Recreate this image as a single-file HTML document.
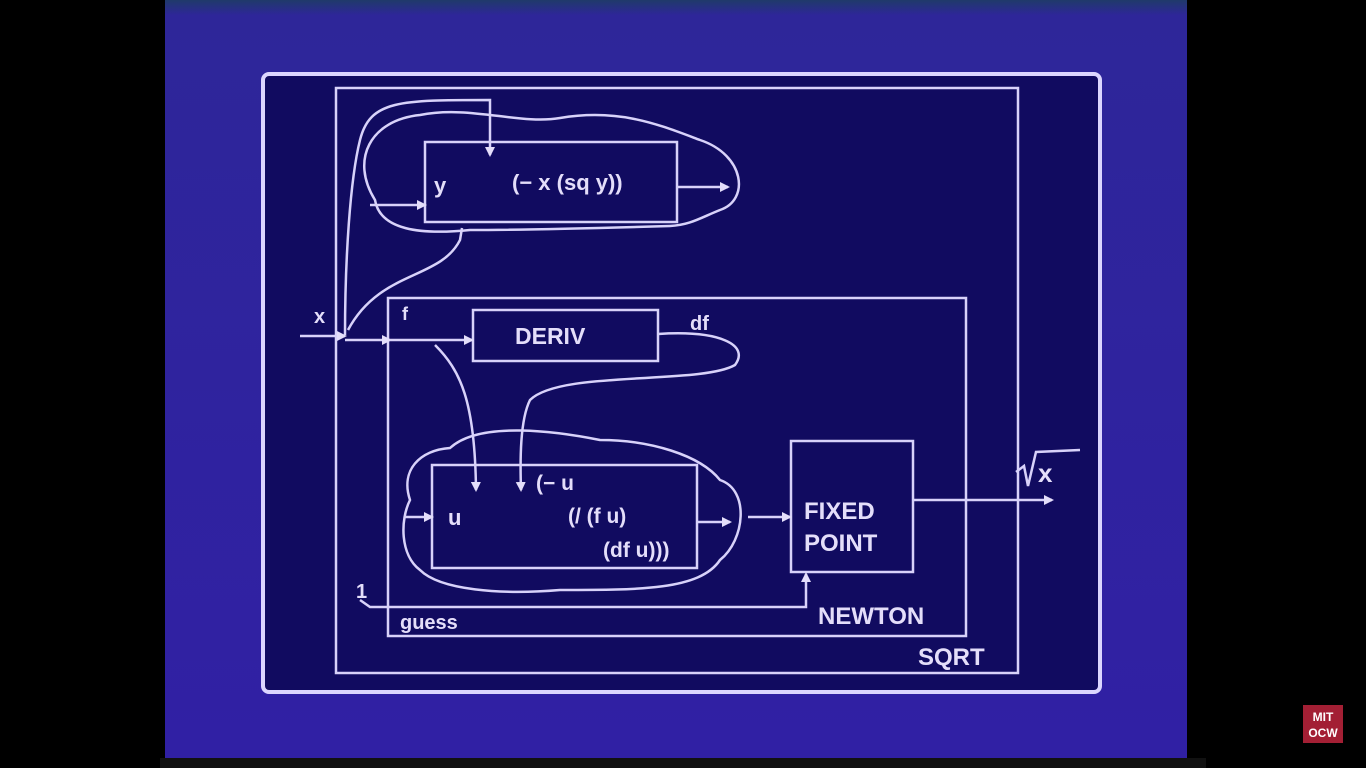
<!DOCTYPE html>
<html><head><meta charset="utf-8"><style>
html,body{margin:0;padding:0;background:#000;width:1366px;height:768px;overflow:hidden}
svg{display:block}
text{font-family:"Liberation Sans",Arial,sans-serif;font-weight:bold;fill:#e4defa}
</style></head><body>
<svg width="1366" height="768" viewBox="0 0 1366 768">
<defs>
<linearGradient id="bg" x1="0" y1="0" x2="0" y2="1">
<stop offset="0" stop-color="#1f3a6a"/><stop offset="0.02" stop-color="#2e2699"/><stop offset="1" stop-color="#3020a4"/>
</linearGradient>
<marker id="ah" markerWidth="10" markerHeight="10" refX="8" refY="5" orient="auto" markerUnits="userSpaceOnUse"><path d="M0,0 L10,5 L0,10 z" fill="#e4defa"/></marker>
</defs>
<rect x="0" y="0" width="1366" height="768" fill="#000"/>
<rect x="165" y="0" width="1022" height="758" fill="url(#bg)"/>
<rect x="160" y="758" width="1046" height="10" fill="#111"/>
<rect x="263" y="74" width="837" height="618" rx="6" fill="#110b60" stroke="#dcd6ff" stroke-width="4"/>
<g fill="none" stroke="#d8d2fa" stroke-width="2.5">
<rect x="336" y="88" width="682" height="585"/>
<rect x="388" y="298" width="578" height="338"/>
<rect x="473" y="310" width="185" height="51"/>
<rect x="425" y="142" width="252" height="80"/>
<rect x="432" y="465" width="265" height="103"/>
<rect x="791" y="441" width="122" height="131"/>
<path d="M375,200 C350,160 370,120 420,115 C470,105 520,125 560,118 C620,108 660,125 700,140 C745,155 750,200 720,210 C700,218 690,225 670,226 C600,228 520,230 470,230 C420,235 380,230 375,200 Z"/>
<path d="M410,500 C400,470 420,450 450,448 C480,420 560,432 600,440 C650,440 700,455 720,480 C750,490 745,540 720,560 C700,590 640,590 560,590 C500,595 440,590 420,570 C400,555 400,520 410,500 Z"/>
<path d="M345,335 C345,260 350,180 360,140 C370,100 400,100 490,100 L490,155" marker-end="url(#ah)"/>
<path d="M370,205 L425,205" marker-end="url(#ah)"/>
<path d="M677,187 L728,187" marker-end="url(#ah)"/>
<path d="M348,330 C380,270 440,280 460,240 L462,228"/>
<path d="M300,336 L345,336" marker-end="url(#ah)"/>
<path d="M345,340 L390,340" marker-end="url(#ah)"/>
<path d="M390,340 L472,340" marker-end="url(#ah)"/>
<path d="M435,345 C460,370 475,400 476,490" marker-end="url(#ah)"/>
<path d="M658,334 C720,330 750,345 735,365 C700,385 560,370 530,400 C520,420 520,460 521,490" marker-end="url(#ah)"/>
<path d="M405,517 L432,517" marker-end="url(#ah)"/>
<path d="M697,522 L730,522" marker-end="url(#ah)"/>
<path d="M748,517 L790,517" marker-end="url(#ah)"/>
<path d="M360,600 L370,607 L806,607 L806,574" marker-end="url(#ah)"/>
<path d="M913,500 L1052,500" marker-end="url(#ah)"/>
<path d="M1016,472 L1024,466 L1028,486 L1036,452 L1080,450"/>
</g>
<text x="434" y="193" font-size="22">y</text>
<text x="512" y="190" font-size="22">(− x (sq y))</text>
<text x="314" y="323" font-size="20">x</text>
<text x="402" y="320" font-size="18">f</text>
<text x="515" y="344" font-size="23">DERIV</text>
<text x="690" y="330" font-size="20">df</text>
<text x="448" y="525" font-size="22">u</text>
<text x="536" y="490" font-size="21">(− u</text>
<text x="568" y="523" font-size="21">(/ (f u)</text>
<text x="603" y="557" font-size="21">(df u)))</text>
<text x="804" y="519" font-size="24">FIXED</text>
<text x="804" y="551" font-size="24">POINT</text>
<text x="818" y="624" font-size="24">NEWTON</text>
<text x="918" y="665" font-size="24">SQRT</text>
<text x="356" y="598" font-size="20">1</text>
<text x="400" y="629" font-size="20">guess</text>
<text x="1038" y="482" font-size="26">x</text>
<rect x="1303" y="705" width="40" height="38" fill="#a31f34"/>
<text x="1323" y="721" font-size="12" text-anchor="middle" style="fill:#fff">MIT</text>
<text x="1323" y="737" font-size="12" text-anchor="middle" style="fill:#fff">OCW</text>
</svg>
</body></html>
